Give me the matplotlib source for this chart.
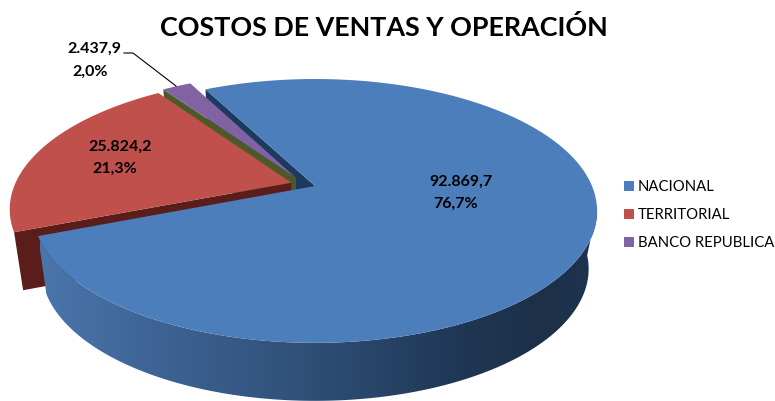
import numpy as np
import matplotlib
matplotlib.use("Agg")
import matplotlib.pyplot as plt
from matplotlib.colors import LinearSegmentedColormap
from matplotlib.patches import Polygon, Rectangle

plt.rcParams['font.family'] = ['Lato', 'DejaVu Sans']

# data
categories = ['NACIONAL', 'TERRITORIAL', 'BANCO REPUBLICA']
values = [92869.7, 25824.2, 2437.9]
value_labels = ['92.869,7', '25.824,2', '2.437,9']
pct_labels = ['76,7%', '21,3%', '2,0%']
title = 'COSTOS DE VENTAS Y OPERACIÓN'

# styles
top_colors = ['#4c7ebb', '#bf504c', '#8163a3']
cut_colors = ['#1b3a5e', '#5a1d1a', '#4b5a26']
explode = [0.0, 0.09, 0.095]
explode_dir = [0, 163, 137]
start_angle = 117.5

# perspective of the pie, in pixels
CX, CY = 315, 187
RX, RY, PERSP = 277, 127.2, 0.189
DEPTH, SHRINK = 58, 0.03


def project(u, v, z=0):
    w = 1 + PERSP * v
    x = CX + RX * u / w * (1 - SHRINK * z)
    y = CY - RY * v / w + DEPTH * z
    return np.column_stack([np.atleast_1d(x), np.atleast_1d(y)])


def rim(a0, a1, off, z=0):
    t = np.radians(np.linspace(a0, a1, 200))
    return project(np.cos(t) + off[0], np.sin(t) + off[1], z)


fig = plt.figure(figsize=(7.75, 4.02), dpi=100)
ax = fig.add_axes([0, 0, 1, 1])

# slice angles (clockwise from start_angle)
shares = np.array(values) / sum(values) * 360
ends = start_angle - np.cumsum(shares)
starts = ends + shares
offs = [(e * np.cos(np.radians(d)), e * np.sin(np.radians(d))) for e, d in zip(explode, explode_dir)]


def cut_face(angle, off, color, zorder):
    t = np.radians(angle)
    edge_u = np.array([off[0], off[0] + np.cos(t)])
    edge_v = np.array([off[1], off[1] + np.sin(t)])
    top = project(edge_u, edge_v, 0)
    bot = project(edge_u, edge_v, 1)
    ax.add_patch(Polygon(np.vstack([top, bot[::-1]]), fc=color, ec='none', zorder=zorder))


def top_face(i, zorder):
    pts = np.vstack([project(offs[i][0], offs[i][1]), rim(starts[i], ends[i], offs[i])])
    ax.add_patch(Polygon(pts, fc=top_colors[i], ec='none', zorder=zorder))


# back to front
cut_face(starts[0], offs[0], cut_colors[0], 1)
cut_face(starts[2], offs[2], cut_colors[2], 2)
top_face(2, 3)
cut_face(starts[1], offs[1], cut_colors[1], 5)
top_face(1, 6)

# outer wall of the big slice with left-to-right shading
wall = np.vstack([rim(ends[0], -10, offs[0]), rim(-5, ends[0], offs[0], 1)])
wall_patch = Polygon(wall, fc='none', ec='none')
ax.add_patch(wall_patch)
shade = LinearSegmentedColormap.from_list('wall', [(0, '#4a76aa'), (0.2, '#3e6496'), (0.47, '#305078'),
                                                   (0.75, '#203755'), (0.9, '#1c3048'), (1, '#1e3350')])
img = ax.imshow(np.linspace(0, 1, 256)[None, :], cmap=shade, aspect='auto', extent=[40, 598, 402, 190], zorder=7)
img.set_clip_path(wall_patch)
top_face(0, 8)

# labels
ax.text(384, 28, title, fontsize=19.4, fontweight='bold', ha='center', va='center', color='black', zorder=9)
label_xy = [((461, 182), (456, 204)), ((120, 147), (115, 169)), ((94, 49), (90, 72))]
for val, pct, (p1, p2) in zip(value_labels, pct_labels, label_xy):
    ax.text(p1[0], p1[1], val, fontsize=11.5, fontweight='bold', ha='center', va='center', zorder=9)
    ax.text(p2[0], p2[1], pct, fontsize=11.5, fontweight='bold', ha='center', va='center', zorder=9)
ax.plot([124, 133, 176], [54, 54, 87], color='black', lw=0.8, zorder=9)

# legend
for i, name in enumerate(categories):
    y = 187 + i * 28
    ax.add_patch(Rectangle((624, y - 5), 10, 10, fc=top_colors[i], ec='none', zorder=9))
    ax.text(638, y + 0.5, name, fontsize=10.7, ha='left', va='center', color='black', zorder=9)

ax.set_xlim(0, 775)
ax.set_ylim(402, 0)
ax.axis('off')
fig.savefig('out.png', dpi=100)
